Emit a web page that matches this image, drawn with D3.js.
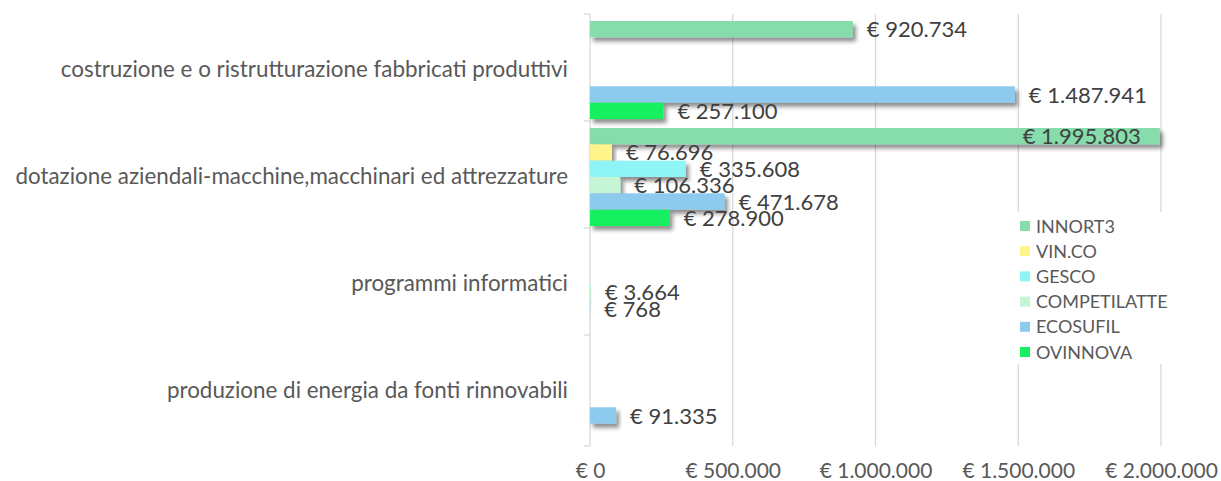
<!DOCTYPE html>
<html><head><meta charset="utf-8">
<script src="https://cdn.jsdelivr.net/npm/d3@7"></script>
<style>body{margin:0;background:#fff}svg{display:block}</style>
</head><body>
<svg id="c" width="1221" height="481"></svg>
<script>
const categories = [
  "costruzione e o ristrutturazione fabbricati produttivi",
  "dotazione aziendali-macchine,macchinari ed attrezzature",
  "programmi informatici",
  "produzione di energia da fonti rinnovabili"
];
const seriesNames = ["INNORT3","VIN.CO","GESCO","COMPETILATTE","ECOSUFIL","OVINNOVA"];
const seriesColors = ["#86dcab","#fff48a","#8ff4f6","#c6f5d6","#8ccaee","#16ef5e"];
const innort3 = [920734, 1995803, null, null];
const vinco = [null, 76696, null, null];
const gesco = [null, 335608, null, null];
const competilatte = [null, 106336, 3664, null];
const ecosufil = [1487941, 471678, 768, 91335];
const ovinnova = [257100, 278900, null, null];
const seriesValues = [innort3, vinco, gesco, competilatte, ecosufil, ovinnova];
const tickValues = [0, 500000, 1000000, 1500000, 2000000];

const loc = d3.formatLocale({decimal:",", thousands:".", grouping:[3], currency:["€ ",""]});
const fmt = v => "€ " + loc.format(",")(v);

const svg = d3.select("#c");
const textColor = "#595959";
const font = "Lato, 'Open Sans', sans-serif";

const defs = svg.append("defs");
const f = defs.append("filter").attr("id","sh").attr("x","-10%").attr("y","-50%").attr("width","130%").attr("height","250%");
f.append("feDropShadow").attr("dx",3).attr("dy",4).attr("stdDeviation",2.2).attr("flood-color","#000").attr("flood-opacity",0.45);

const x = d3.scaleLinear().domain([0, 2000000]).range([590, 1161]);
const y = d3.scaleBand().domain(categories).range([16.5, 444.5]).paddingInner(0.084).paddingOuter(0.042);
const ys = d3.scaleBand().domain(seriesNames).range([0, y.bandwidth()]);

// gridlines
svg.append("g").selectAll("line").data(tickValues.slice(1)).join("line")
  .attr("x1", d=>x(d)).attr("x2", d=>x(d)).attr("y1", 14).attr("y2", 446)
  .attr("stroke","#d9d9d9").attr("stroke-width",1.3);
// category axis line
svg.append("line").attr("x1",x(0)).attr("x2",x(0)).attr("y1",14).attr("y2",446).attr("stroke","#d9d9d9").attr("stroke-width",1.3);
const bounds = [14, 121, 228, 335, 446];
svg.append("g").selectAll("line").data(bounds).join("line")
  .attr("x1", x(0)-6).attr("x2", x(0)).attr("y1", d=>d).attr("y2", d=>d)
  .attr("stroke","#d9d9d9").attr("stroke-width",1.3);

// x axis labels
const xAxis = d3.axisBottom(x).tickValues(tickValues).tickFormat(fmt).tickSize(0).tickPadding(0);
const gx = svg.append("g").attr("transform","translate(0,478)").call(xAxis);
gx.select(".domain").remove();
gx.selectAll("text").attr("fill",textColor).attr("font-size",21).attr("font-family",font).attr("dy",0).attr("y",0);

// category labels
svg.append("g").selectAll("text").data(categories).join("text")
  .attr("x", 568).attr("y", d=>y(d)+y.bandwidth()/2 + 7)
  .attr("text-anchor","end")
  .attr("fill",textColor).attr("font-size",22.4).attr("font-family",font).text(d=>d);

// bars
const bars = [];
seriesNames.forEach((s,i)=>{
  categories.forEach((c,j)=>{
    const v = seriesValues[i][j];
    if (v != null) bars.push({s, c, v, color: seriesColors[i]});
  });
});
svg.append("g").selectAll("rect").data(bars).join("rect")
  .attr("x", x(0)).attr("y", d=>y(d.c)+ys(d.s)).attr("width", d=>Math.max(x(d.v)-x(0), 0.1))
  .attr("height", ys.bandwidth()).attr("fill", d=>d.color).attr("filter","url(#sh)");

// value labels
const inside = d => x(d.v) + 140 > 1221;
svg.append("g").selectAll("text").data(bars).join("text")
  .attr("x", d=> inside(d) ? x(d.v) - 19 : x(d.v) + 14)
  .attr("text-anchor", d=> inside(d) ? "end" : "start")
  .attr("y", d=>y(d.c)+ys(d.s)+ys.bandwidth()/2 + 8)
  .attr("fill","#404040").attr("font-size",22).attr("font-family",font).text(d=>fmt(d.v));

// legend
const lg = svg.append("g").attr("transform","translate(1014,212)");
lg.append("rect").attr("width",162).attr("height",152).attr("fill","#fff");
const li = lg.selectAll("g").data(seriesNames).join("g").attr("transform",(d,i)=>`translate(6,${14+i*25.2})`);
li.append("rect").attr("x",0).attr("y",-5).attr("width",10).attr("height",10).attr("fill",(d,i)=>seriesColors[i]);
li.append("text").attr("x",16).attr("y",6.5)
  .attr("fill",textColor).attr("font-size",18).attr("font-family",font).text(d=>d);
</script>
</body></html>
